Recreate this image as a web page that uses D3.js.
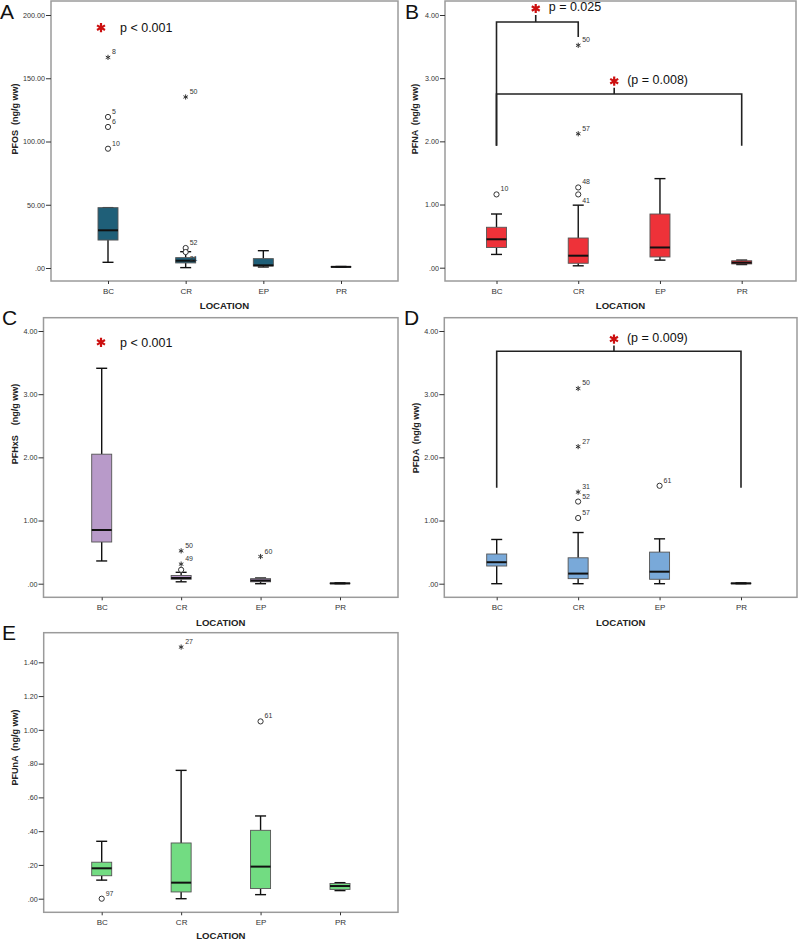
<!DOCTYPE html>
<html><head><meta charset="utf-8">
<script src="https://cdn.jsdelivr.net/npm/d3@7"></script>
<style>
html,body{margin:0;padding:0;background:#fff;}
text{font-family:Arial,"Liberation Sans",sans-serif;}
</style></head>
<body><svg id="c" width="800" height="940"></svg>
<script>
// ---------- DATA ----------
const categories = ["BC","CR","EP","PR"];
// [lower whisker, Q1, median, Q3, upper whisker]
const pfosStats  = [[4.5,22.1,29.8,47.7,47.7],[0.3,4.0,5.8,8.2,12.9],[0.8,1.6,2.1,7.4,13.7],[0.6,0.7,0.9,1.1,1.2]];
const pfnaStats  = [[0.21,0.32,0.45,0.64,0.85],[0.03,0.07,0.19,0.47,0.99],[0.12,0.17,0.32,0.85,1.41],[0.05,0.06,0.08,0.11,0.12]];
const pfhxsStats = [[0.36,0.66,0.85,2.05,3.41],[0.03,0.07,0.09,0.13,0.18],[0.0,0.03,0.05,0.08,0.09],[0.0,0.0,0.005,0.01,0.015]];
const pfdaStats  = [[0.0,0.28,0.34,0.47,0.70],[0.0,0.08,0.16,0.41,0.81],[0.0,0.07,0.19,0.50,0.71],[0.0,0.0,0.005,0.01,0.015]];
const pfunaStats = [[0.11,0.136,0.18,0.216,0.34],[0.0,0.04,0.095,0.33,0.76],[0.024,0.06,0.19,0.405,0.49],[0.048,0.055,0.075,0.09,0.095]];
// [category, value, case label, marker]
const pfosOutliers  = [["BC",166.5,"8","star"],["BC",119.4,"5","circle"],["BC",111.5,"6","circle"],["BC",94.3,"10","circle"],["CR",135.2,"50","star"],["CR",15.8,"52","circle"],["CR",12.6,"21","circle"]];
const pfnaOutliers  = [["BC",1.16,"10","circle"],["CR",1.16,"41","circle"],["CR",1.27,"48","circle"],["CR",2.12,"57","star"],["CR",3.52,"50","star"]];
const pfhxsOutliers = [["CR",0.22,"","circle"],["CR",0.31,"49","star"],["CR",0.52,"50","star"],["EP",0.43,"60","star"]];
const pfdaOutliers  = [["CR",1.04,"57","circle"],["CR",1.30,"52","circle"],["CR",1.45,"31","star"],["CR",2.17,"27","star"],["CR",3.09,"50","star"],["EP",1.55,"61","circle"]];
const pfunaOutliers = [["BC",0.0,"97","circle"],["CR",1.49,"27","star"],["EP",1.05,"61","circle"]];
const pfosTicks  = [0,50,100,150,200];
const fourTicks  = [0,1,2,3,4];
const pfunaTicks = [0,0.2,0.4,0.6,0.8,1.0,1.2,1.4];
// significance annotations: [from, to, bar value, left leg end, right leg end, tip value, label]
const pfnaBrackets = [["BC","CR",3.89,1.93,3.65,4.0,"p = 0.025"],["BC","PR",2.75,1.93,1.93,2.85,"(p = 0.008)"]];
const pfdaBrackets = [["BC","PR",3.68,1.52,1.52,3.77,"(p = 0.009)"]];

// ---------- LAYOUT ----------
const labelsBelow = {"A-21":true, "B-41":true};
const panels = [
 {letter:"A", title:"PFOS  (ng/g ww)", stats:pfosStats, outl:pfosOutliers, ticks:pfosTicks, color:"#1f5f78",
  fx0:51, fx1:398, fy0:1, fy1:281, xr:[108,341], ydom:[0,200], yr:[268,15],
  letterX:0, letterY:19, titleX:14, titleY:119, catY:294, locY:309, note:{text:"p < 0.001", dx:-7, v:190}, brackets:[]},
 {letter:"B", title:"PFNA  (ng/g ww)", stats:pfnaStats, outl:pfnaOutliers, ticks:fourTicks, color:"#ee3239",
  fx0:445, fx1:796, fy0:1, fy1:281, xr:[496.5,741.7], ydom:[0,4], yr:[267.7,15],
  letterX:405, letterY:19, titleX:414, titleY:119, catY:294, locY:309, note:null, brackets:pfnaBrackets},
 {letter:"C", title:"PFHxS    (ng/g ww)", stats:pfhxsStats, outl:pfhxsOutliers, ticks:fourTicks, color:"#b89ac9",
  fx0:43.5, fx1:398, fy0:317.7, fy1:597.3, xr:[101.7,340], ydom:[0,4], yr:[583.7,331],
  letterX:2, letterY:324.5, titleX:14, titleY:424, catY:610.5, locY:625.5, note:{text:"p < 0.001", dx:-0.7, v:3.82}, brackets:[]},
 {letter:"D", title:"PFDA  (ng/g ww)", stats:pfdaStats, outl:pfdaOutliers, ticks:fourTicks, color:"#79a9d9",
  fx0:444.3, fx1:797, fy0:317.7, fy1:597.3, xr:[496.7,741], ydom:[0,4], yr:[583.7,331],
  letterX:404, letterY:324.5, titleX:415, titleY:438, catY:610.5, locY:625.5, note:null, brackets:pfdaBrackets},
 {letter:"E", title:"PFUnA  (ng/g ww)", stats:pfunaStats, outl:pfunaOutliers, ticks:pfunaTicks, color:"#72dc82",
  fx0:43.7, fx1:398, fy0:632.7, fy1:912.3, xr:[101.7,340], ydom:[0,1.4], yr:[898.7,662.3],
  letterX:2, letterY:640, titleX:14, titleY:747.5, catY:925.5, locY:938.5, note:null, brackets:[]}
];

const svg = d3.select("#c");
const fmt = v => d3.format(".2f")(v).replace(/^0\./,".");

function asterisk(g, cx, cy, r, color, sw){
  const p = d3.path();
  for (const a of [90,30,150]) {
    const t = a*Math.PI/180;
    p.moveTo(cx - r*Math.cos(t), cy - r*Math.sin(t));
    p.lineTo(cx + r*Math.cos(t), cy + r*Math.sin(t));
  }
  g.append("path").attr("d", p.toString()).attr("stroke", color).attr("stroke-width", sw).attr("fill","none");
}

panels.forEach(P => {
  const g = svg.append("g");
  const x = d3.scalePoint().domain(categories).range(P.xr);
  const y = d3.scaleLinear().domain(P.ydom).range(P.yr);

  // frame
  g.append("rect").attr("x",P.fx0).attr("y",P.fy0).attr("width",P.fx1-P.fx0).attr("height",P.fy1-P.fy0)
    .attr("fill","none").attr("stroke","#9b9b9b").attr("stroke-width",1.5);

  // y axis
  const ya = g.append("g").attr("transform",`translate(${P.fx0},0)`)
    .call(d3.axisLeft(y).tickValues(P.ticks).tickFormat(fmt).tickSize(5).tickPadding(1));
  ya.select(".domain").remove();
  ya.selectAll("line").attr("stroke","#333");
  ya.selectAll("text").attr("font-size",7.2).attr("fill","#333").attr("font-family","Arial,'Liberation Sans',sans-serif");

  // x axis
  const xa = g.append("g").attr("transform",`translate(0,${P.fy1})`)
    .call(d3.axisBottom(x).tickSize(3).tickPadding(0));
  xa.select(".domain").remove();
  xa.selectAll("line").attr("stroke","#333");
  xa.selectAll("text").attr("y", P.catY - P.fy1).attr("dy",0).attr("font-size",8).attr("fill","#333")
    .attr("font-family","Arial,'Liberation Sans',sans-serif");

  // axis titles
  g.append("text").attr("x",(P.fx0+P.fx1)/2).attr("y",P.locY).attr("text-anchor","middle")
    .attr("font-weight","bold").attr("font-size",9.6).attr("fill","#222").text("LOCATION");
  g.append("text").attr("transform",`translate(${P.titleX+3.5},${P.titleY}) rotate(-90)`).attr("text-anchor","middle")
    .attr("font-weight","bold").attr("font-size",9).attr("fill","#222").attr("xml:space","preserve").text(P.title);
  g.append("text").attr("x",P.letterX).attr("y",P.letterY).attr("font-family","'Liberation Serif','Times New Roman',serif")
    .attr("font-size",21).attr("fill","#111").text(P.letter);

  // boxes
  const bw = 20, cw = 11;
  categories.forEach((c,i) => {
    const [lo,q1,md,q3,hi] = P.stats[i];
    const cx = x(c);
    const bg = g.append("g");
    bg.append("line").attr("x1",cx).attr("x2",cx).attr("y1",y(lo)).attr("y2",y(q1)).attr("stroke","#111").attr("stroke-width",1.4);
    bg.append("line").attr("x1",cx).attr("x2",cx).attr("y1",y(hi)).attr("y2",y(q3)).attr("stroke","#111").attr("stroke-width",1.4);
    bg.append("line").attr("x1",cx-cw/2).attr("x2",cx+cw/2).attr("y1",y(lo)).attr("y2",y(lo)).attr("stroke","#111").attr("stroke-width",1.4);
    bg.append("line").attr("x1",cx-cw/2).attr("x2",cx+cw/2).attr("y1",y(hi)).attr("y2",y(hi)).attr("stroke","#111").attr("stroke-width",1.4);
    bg.append("rect").attr("x",cx-bw/2).attr("width",bw).attr("y",y(q3)).attr("height",Math.max(0.5,y(q1)-y(q3)))
      .attr("fill",P.color).attr("stroke","#555").attr("stroke-width",0.9);
    bg.append("line").attr("x1",cx-bw/2).attr("x2",cx+bw/2).attr("y1",y(md)).attr("y2",y(md)).attr("stroke","#111").attr("stroke-width",2);
  });

  // outliers
  P.outl.forEach(([c,v,lab,type]) => {
    const cx = x(c), cy = y(v);
    if (type === "circle") {
      g.append("circle").attr("cx",cx).attr("cy",cy).attr("r",2.6).attr("fill","#fff").attr("stroke","#333").attr("stroke-width",1);
    } else {
      asterisk(g, cx, cy, 2.6, "#333", 1);
    }
    const below = labelsBelow[P.letter + "-" + lab];
    if (lab) g.append("text").attr("x",cx+4).attr("y",below ? cy+9 : cy-3).attr("font-size",7).attr("fill","#333").text(lab);
  });

  // p-value note
  if (P.note) {
    const sx = x("BC") + P.note.dx, sy = y(P.note.v);
    asterisk(g, sx, sy, 4.6, "#cc1010", 2.2);
    g.append("text").attr("x",sx+19).attr("y",sy).attr("dy","0.35em").attr("font-size",12.5).attr("fill","#111").text(P.note.text);
  }

  // brackets
  P.brackets.forEach(([a,b,bar,l1,l2,tip,lab]) => {
    const xa1 = x(a), xb1 = x(b), xm = xa1 + 0.48*(xb1-xa1);
    const p = d3.path();
    p.moveTo(xa1, y(l1)); p.lineTo(xa1, y(bar)); p.lineTo(xb1, y(bar)); p.lineTo(xb1, y(l2));
    p.moveTo(xm, y(bar)); p.lineTo(xm, y(tip));
    g.append("path").attr("d",p.toString()).attr("fill","none").attr("stroke","#222").attr("stroke-width",1.6);
    const sy = y(tip) - 6.5;
    asterisk(g, xm, sy, 4.6, "#cc1010", 2.2);
    g.append("text").attr("x",xm+13).attr("y",sy-1.5).attr("dy","0.35em").attr("font-size",12.5).attr("fill","#111").text(lab);
  });
});
</script></body></html>
